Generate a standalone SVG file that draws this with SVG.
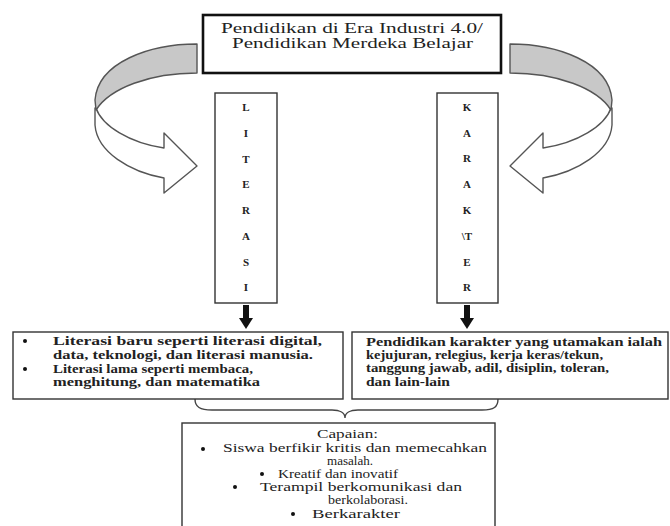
<svg xmlns="http://www.w3.org/2000/svg" width="670" height="526" viewBox="0 0 670 526">
<style>
text{font-family:"Liberation Serif","Times New Roman",serif;fill:#222}
.t{font-size:15px}
.s{font-size:12px;font-weight:bold}
.b{font-size:11.5px}
.v{font-size:11px;font-weight:bold;text-anchor:middle}
.box{fill:#fff;stroke:#333;stroke-width:1.4}
.gray{fill:#c8c8c8;stroke:#555;stroke-width:1.4;stroke-linejoin:round}
.white{fill:#fff;stroke:#555;stroke-width:1.4;stroke-linejoin:round}
.blk{fill:#111}
</style>
<defs>
<g id="curve">
<path class="white" d="M96,108 C102,126 130,143 164,148 L164,133 L197,166 L164,193 L164,178 C130,172 97,152 95,125 L95,108 Z"/>
<path class="gray" d="M197,44 C150,44 98,62 95,100 L96,110 C110,88 150,73 197,73 Z"/>
</g>
</defs>
<g id="top">
<rect x="203" y="15" width="298" height="58" fill="#fff" stroke="#111" stroke-width="2.6"/>
<text class="t" x="221" y="33" textLength="262" lengthAdjust="spacingAndGlyphs">Pendidikan di Era Industri 4.0/</text>
<text class="t" x="232" y="48" textLength="241" lengthAdjust="spacingAndGlyphs">Pendidikan Merdeka Belajar</text>
</g>
<g id="connectors">
<use href="#curve"/>
<use href="#curve" transform="matrix(-1,0,0,1,707,0)"/>
<rect class="blk" x="243" y="305" width="6" height="14"/>
<polygon class="blk" points="239,318 253,318 246,329"/>
<rect class="blk" x="464" y="305" width="6" height="14"/>
<polygon class="blk" points="460,318 474,318 467,329"/>
<path d="M195,399 C195,407 200,410 212,410 L332,410 C340,410 345,413 345,418 C345,413 350,410 358,410 L482,410 C494,410 498,407 498,399" fill="none" stroke="#444" stroke-width="1.4"/>
</g>
<g id="literasi">
<rect class="box" x="215" y="93" width="62" height="210"/>
<text class="v" x="246" y="111">L</text>
<text class="v" x="246" y="137">I</text>
<text class="v" x="246" y="163">T</text>
<text class="v" x="246" y="188">E</text>
<text class="v" x="246" y="214">R</text>
<text class="v" x="246" y="240">A</text>
<text class="v" x="246" y="266">S</text>
<text class="v" x="246" y="291">I</text>
</g>
<g id="karakter">
<rect class="box" x="437" y="93" width="61" height="210"/>
<text class="v" x="467" y="111">K</text>
<text class="v" x="467" y="137">A</text>
<text class="v" x="467" y="162">R</text>
<text class="v" x="467" y="188">A</text>
<text class="v" x="467" y="214">K</text>
<text class="v" x="467" y="240">\T</text>
<text class="v" x="467" y="266">E</text>
<text class="v" x="467" y="291">R</text>
</g>
<g id="literasi-detail">
<rect class="box" x="13" y="332" width="330" height="67"/>
<circle class="blk" cx="25" cy="341" r="2"/>
<circle class="blk" cx="25" cy="369" r="2"/>
<text class="s" x="53" y="345" textLength="269" lengthAdjust="spacingAndGlyphs">Literasi baru seperti literasi digital,</text>
<text class="s" x="53" y="359" textLength="260" lengthAdjust="spacingAndGlyphs">data, teknologi, dan literasi manusia.</text>
<text class="s" x="53" y="373" textLength="200" lengthAdjust="spacingAndGlyphs">Literasi lama seperti membaca,</text>
<text class="s" x="53" y="386" textLength="207" lengthAdjust="spacingAndGlyphs">menghitung, dan matematika</text>
</g>
<g id="karakter-detail">
<rect class="box" x="352" y="332" width="316" height="67"/>
<text class="s" x="366" y="346" textLength="296" lengthAdjust="spacingAndGlyphs">Pendidikan karakter yang utamakan ialah</text>
<text class="s" x="366" y="359" textLength="237" lengthAdjust="spacingAndGlyphs">kejujuran, relegius, kerja keras/tekun,</text>
<text class="s" x="366" y="372" textLength="243" lengthAdjust="spacingAndGlyphs">tanggung jawab, adil, disiplin, toleran,</text>
<text class="s" x="366" y="386" textLength="84" lengthAdjust="spacingAndGlyphs">dan lain-lain</text>
</g>
<g id="capaian">
<rect class="box" x="182" y="423" width="313" height="110"/>
<text class="b" x="317" y="438" textLength="61" lengthAdjust="spacingAndGlyphs">Capaian:</text>
<circle class="blk" cx="203" cy="449" r="2"/>
<text class="b" x="223" y="452" textLength="264" lengthAdjust="spacingAndGlyphs">Siswa berfikir kritis dan memecahkan</text>
<text class="b" x="327" y="465" textLength="46" lengthAdjust="spacingAndGlyphs">masalah.</text>
<circle class="blk" cx="262" cy="474" r="2"/>
<text class="b" x="278" y="478" textLength="120" lengthAdjust="spacingAndGlyphs">Kreatif dan inovatif</text>
<circle class="blk" cx="235" cy="487" r="2"/>
<text class="b" x="260" y="491" textLength="202" lengthAdjust="spacingAndGlyphs">Terampil berkomunikasi dan</text>
<text class="b" x="328" y="504" textLength="80" lengthAdjust="spacingAndGlyphs">berkolaborasi.</text>
<circle class="blk" cx="293" cy="514" r="2"/>
<text class="b" x="312" y="518" textLength="88" lengthAdjust="spacingAndGlyphs">Berkarakter</text>
</g>
</svg>
